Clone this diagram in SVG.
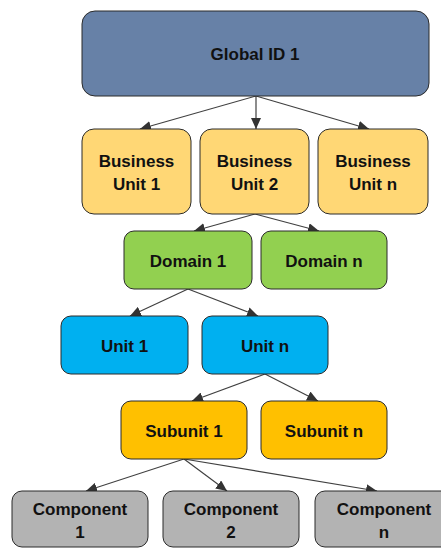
<svg xmlns="http://www.w3.org/2000/svg" width="441" height="548" viewBox="0 0 441 548">
  <style>
    .box { stroke: #2b2b2b; stroke-width: 1; }
    .lbl { font-family: "Liberation Sans", Arial, sans-serif; font-weight: bold; font-size: 17px; fill: #111; text-anchor: middle; }
    .edge { stroke: #404040; stroke-width: 1.2; fill: none; marker-end: url(#arrow); }
    .global { fill: #6781A7; }
    .bu { fill: #FFD775; }
    .dom { fill: #92D050; }
    .unit { fill: #00B0F0; }
    .sub { fill: #FFC000; }
    .comp { fill: #B3B3B3; }
  </style>
  <defs>
    <marker id="arrow" markerUnits="userSpaceOnUse" markerWidth="12" markerHeight="10" refX="11" refY="5" orient="auto">
      <path d="M0,0 L11,5 L0,10 z" fill="#333"/>
    </marker>
  </defs>
  <rect width="441" height="548" fill="#fff"/>

  <g id="connectors">
    <line class="edge" x1="256" y1="96" x2="140" y2="129"/>
    <line class="edge" x1="256" y1="96" x2="256" y2="129"/>
    <line class="edge" x1="256" y1="96" x2="369" y2="129"/>

    <line class="edge" x1="255" y1="214" x2="194" y2="231"/>
    <line class="edge" x1="255" y1="214" x2="319" y2="231"/>

    <line class="edge" x1="188" y1="289" x2="130" y2="316"/>
    <line class="edge" x1="188" y1="289" x2="258" y2="316"/>

    <line class="edge" x1="265" y1="374" x2="192" y2="401"/>
    <line class="edge" x1="265" y1="374" x2="318" y2="401"/>

    <line class="edge" x1="184" y1="459" x2="86" y2="491"/>
    <line class="edge" x1="184" y1="459" x2="227" y2="491"/>
    <line class="edge" x1="184" y1="459" x2="377" y2="491"/>
  </g>

  <g id="global-id-1">
    <rect class="box global" x="82" y="11" width="347" height="85" rx="13"/>
    <text class="lbl" x="255" y="60">Global ID 1</text>
  </g>

  <g id="business-unit-1">
    <rect class="box bu" x="82" y="129" width="109" height="85" rx="12"/>
    <text class="lbl" x="136.5" y="167">Business</text>
    <text class="lbl" x="136.5" y="190">Unit 1</text>
  </g>
  <g id="business-unit-2">
    <rect class="box bu" x="200" y="129" width="109" height="85" rx="12"/>
    <text class="lbl" x="254.5" y="167">Business</text>
    <text class="lbl" x="254.5" y="190">Unit 2</text>
  </g>
  <g id="business-unit-n">
    <rect class="box bu" x="318" y="129" width="110" height="85" rx="12"/>
    <text class="lbl" x="373" y="167">Business</text>
    <text class="lbl" x="373" y="190">Unit n</text>
  </g>

  <g id="domain-1">
    <rect class="box dom" x="124" y="231" width="128" height="58" rx="10"/>
    <text class="lbl" x="188" y="267">Domain 1</text>
  </g>
  <g id="domain-n">
    <rect class="box dom" x="261" y="231" width="126" height="58" rx="10"/>
    <text class="lbl" x="324" y="267">Domain n</text>
  </g>

  <g id="unit-1">
    <rect class="box unit" x="61" y="316" width="127" height="58" rx="10"/>
    <text class="lbl" x="124.5" y="352">Unit 1</text>
  </g>
  <g id="unit-n">
    <rect class="box unit" x="202" y="316" width="126" height="58" rx="10"/>
    <text class="lbl" x="265" y="352">Unit n</text>
  </g>

  <g id="subunit-1">
    <rect class="box sub" x="121" y="401" width="126" height="58" rx="10"/>
    <text class="lbl" x="184" y="437">Subunit 1</text>
  </g>
  <g id="subunit-n">
    <rect class="box sub" x="261" y="401" width="126" height="58" rx="10"/>
    <text class="lbl" x="324" y="437">Subunit n</text>
  </g>

  <g id="component-1">
    <rect class="box comp" x="12" y="491" width="136" height="56" rx="10"/>
    <text class="lbl" x="80" y="515">Component</text>
    <text class="lbl" x="80" y="538">1</text>
  </g>
  <g id="component-2">
    <rect class="box comp" x="163" y="491" width="136" height="56" rx="10"/>
    <text class="lbl" x="231" y="515">Component</text>
    <text class="lbl" x="231" y="538">2</text>
  </g>
  <g id="component-n">
    <rect class="box comp" x="315" y="491" width="136" height="56" rx="10"/>
    <text class="lbl" x="384" y="515">Component</text>
    <text class="lbl" x="384" y="538">n</text>
  </g>
</svg>
